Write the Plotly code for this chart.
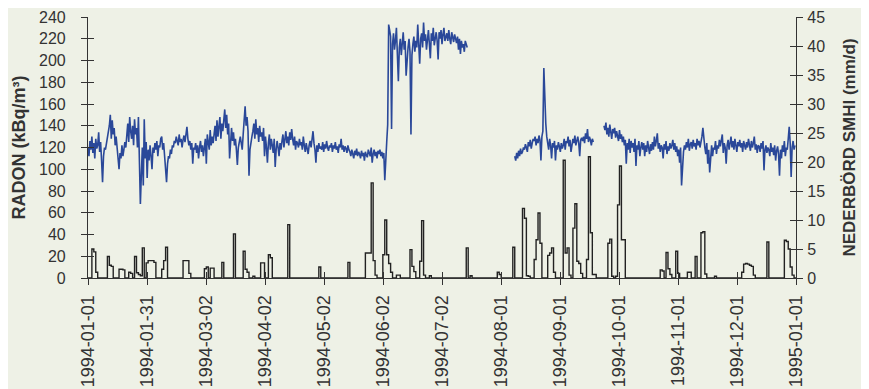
import pandas as pd
import plotly.graph_objects as go

# ---------------- data ----------------
# Radon, two readings per day (00:00 and 12:00), kBq/m3
radon_jan_jul_start = "1994-01-01"
radon_jan_jul = [
    120,112,126,118,130,115,124,110,128,119,
    122,134,116,125,108,88,112,120,118,124,
    126,135,140,150,128,145,132,138,122,130,
    118,108,100,115,110,122,112,118,125,120,
    130,142,125,148,135,128,140,122,146,132,
    138,120,148,110,68,95,120,85,146,110,
    125,92,118,108,122,112,100,120,115,124,
    118,126,112,122,120,128,130,118,124,112,
    95,88,105,112,110,118,114,122,120,126,
    124,130,126,122,132,125,128,120,127,131,
    125,132,139,128,122,126,118,124,105,120,
    118,124,115,122,110,120,126,116,122,112,
    120,128,105,132,125,118,136,122,130,124,
    132,140,126,145,130,138,148,128,142,135,
    145,155,138,150,132,142,110,130,138,126,
    134,122,128,118,104,120,126,130,124,118,
    132,145,158,140,148,135,94,118,126,130,
    135,142,128,146,132,138,125,140,130,134,
    126,138,112,130,120,106,124,132,118,128,
    122,115,128,102,118,126,120,112,124,118,
    126,132,120,128,135,124,130,122,134,127,
    137,128,122,130,118,126,124,120,128,122,
    125,118,130,122,116,124,120,114,122,126,
    120,128,135,124,118,106,122,116,124,119,
    121,118,125,116,123,119,126,120,117,122,
    120,124,116,122,119,125,118,121,115,123,
    120,128,118,122,116,121,119,115,122,118,
    116,112,118,114,110,117,113,119,112,116,
    114,110,117,112,115,108,116,113,111,118,
    115,112,120,106,114,118,112,116,110,117,
    114,118,112,116,110,115,90,118,125,141,
    233,228,222,137,215,225,210,218,230,205,
    181,212,220,205,215,226,210,218,186,205,
    212,220,208,132,205,215,222,208,218,212,
    233,215,197,220,225,212,235,218,224,210,
    222,228,215,202,225,218,230,214,220,226,
    218,201,226,220,228,215,224,230,218,222,
    225,218,228,220,215,226,222,217,224,220,
    216,222,210,220,206,218,212,215,208,218,
    215,212,
]
radon_aug_sep_start = "1994-08-09"
radon_aug_sep = [
    112,108,115,110,117,112,119,114,116,120,
    118,123,120,116,125,121,127,119,124,128,
    126,130,122,128,124,131,127,108,130,135,
    193,158,142,130,125,118,128,122,110,124,
    120,126,108,122,118,125,121,116,124,119,
    122,128,118,126,124,130,121,127,116,125,
    128,124,131,122,126,130,124,112,127,129,
    126,130,124,133,128,137,125,130,127,122,
    128,125,
]
radon_sep_dec_start = "1994-09-24"
radon_sep_dec = [
    140,136,143,132,138,130,141,135,128,137,
    133,138,129,135,131,126,136,128,132,125,
    130,122,127,105,124,118,128,115,126,120,
    124,116,128,103,122,118,126,112,120,125,
    118,124,112,122,116,126,120,114,123,117,
    125,118,130,121,126,133,119,124,116,122,
    120,110,123,118,126,114,121,117,124,119,
    122,127,118,124,116,121,112,118,106,120,
    85,104,116,122,118,125,120,128,117,123,
    125,119,127,121,124,118,128,122,126,120,
    124,130,138,126,120,114,124,105,118,97,
    116,122,112,120,118,126,114,122,119,127,
    121,128,132,115,124,120,105,122,127,118,
    124,130,120,126,118,128,122,116,125,121,
    127,120,124,116,126,122,118,125,120,128,
    122,117,126,120,124,130,118,123,115,122,
    121,116,124,119,126,99,118,122,115,120,
    118,112,124,116,120,113,122,108,117,121,
    114,94,118,110,122,116,126,112,120,118,
    128,139,124,93,120,126,118,122,
]

# Precipitation SMHI, mm/d (days not listed = 0)
precip_dates = [
    "1994-01-03","1994-01-04","1994-01-05","1994-01-11","1994-01-12","1994-01-13",
    "1994-01-17","1994-01-18","1994-01-19","1994-01-22","1994-01-23","1994-01-25",
    "1994-01-26","1994-01-27","1994-01-28","1994-01-29","1994-01-31","1994-02-01",
    "1994-02-02","1994-02-03","1994-02-04","1994-02-08","1994-02-09","1994-02-10",
    "1994-02-19","1994-02-20","1994-02-21","1994-02-22","1994-03-02","1994-03-03",
    "1994-03-05","1994-03-06","1994-03-11","1994-03-17","1994-03-22","1994-03-23",
    "1994-03-24","1994-03-27","1994-03-31","1994-04-01","1994-04-04","1994-04-05",
    "1994-04-14","1994-04-30","1994-05-15","1994-05-24","1994-05-25","1994-05-26",
    "1994-05-27","1994-05-28","1994-05-29","1994-06-02","1994-06-03","1994-06-04",
    "1994-06-05","1994-06-06","1994-06-09","1994-06-10","1994-06-16","1994-06-17",
    "1994-06-18","1994-06-21","1994-06-22","1994-06-23","1994-06-26","1994-07-15",
    "1994-07-17","1994-07-31","1994-08-01","1994-08-08","1994-08-13","1994-08-14",
    "1994-08-15","1994-08-16","1994-08-19","1994-08-20","1994-08-21","1994-08-22",
    "1994-08-26","1994-08-27","1994-08-28","1994-08-29","1994-09-03","1994-09-04",
    "1994-09-05","1994-09-06","1994-09-08","1994-09-09","1994-09-10","1994-09-11",
    "1994-09-12","1994-09-15","1994-09-16","1994-09-17","1994-09-18","1994-09-19",
    "1994-09-26","1994-09-27","1994-09-28","1994-09-30","1994-10-01","1994-10-02",
    "1994-10-03","1994-10-04","1994-10-23","1994-10-24","1994-10-26","1994-10-27",
    "1994-10-28","1994-10-31","1994-11-01","1994-11-06","1994-11-07","1994-11-10",
    "1994-11-13","1994-11-14","1994-11-15","1994-11-20","1994-12-04","1994-12-05",
    "1994-12-06","1994-12-07","1994-12-08","1994-12-09","1994-12-10","1994-12-17",
    "1994-12-26","1994-12-27","1994-12-28","1994-12-29","1994-12-30",
]
precip_mm = [
    5.0,4.5,1.0,3.7,2.2,2.0,
    1.5,1.5,1.4,1.0,0.8,3.7,
    0.9,0.6,0.4,5.2,2.6,3.0,
    3.0,3.0,2.7,1.5,3.0,5.3,
    3.0,3.0,3.0,0.8,1.6,1.9,
    1.7,1.7,2.7,7.6,4.6,1.5,
    1.0,0.3,2.6,2.6,4.0,3.5,
    9.2,1.9,2.7,4.3,4.3,4.3,
    16.4,3.0,0.5,4.0,10.0,4.0,
    2.5,1.0,0.5,0.5,4.9,2.0,
    1.1,2.9,9.9,0.5,0.4,5.2,
    0.4,1.0,0.6,5.3,12.0,10.3,
    0.4,0.3,3.2,6.6,11.2,6.0,
    3.9,4.3,5.2,1.0,20.3,4.3,
    5.2,0.5,8.6,12.8,2.9,2.5,
    0.8,3.2,20.9,7.8,0.6,0.6,
    6.0,6.7,0.3,0.3,12.6,19.3,
    6.6,6.6,1.4,1.2,4.4,1.6,
    0.6,4.6,0.8,1.0,1.0,3.7,
    7.8,8.0,0.7,0.3,1.0,2.4,
    2.5,2.4,2.2,2.0,0.5,6.2,
    6.5,6.3,5.0,1.9,0.5,
]

x_tick_labels = ["1994-01-01","1994-01-31","1994-03-02","1994-04-02","1994-05-02",
                 "1994-06-02","1994-07-02","1994-08-01","1994-09-01","1994-10-01",
                 "1994-11-01","1994-12-01","1995-01-01"]

# ---------------- build series ----------------
def seg(start, vals):
    idx = pd.date_range(start, periods=len(vals), freq="12h")
    return list(idx), list(vals)

rx, ry = [], []
for s, v in [(radon_jan_jul_start, radon_jan_jul),
             (radon_aug_sep_start, radon_aug_sep),
             (radon_sep_dec_start, radon_sep_dec)]:
    xs, ys = seg(s, v)
    rx += xs + [None]
    ry += ys + [None]

days = pd.date_range("1994-01-01", "1995-01-01", freq="D")
pser = pd.Series(0.0, index=days)
for d, v in zip(precip_dates, precip_mm):
    pser[pd.Timestamp(d)] = v

t0 = pd.Timestamp("1994-01-01")
tickvals = [t0 + pd.Timedelta(days=365 / 12 * i) for i in range(len(x_tick_labels))]

ink = "#333333"
bg = "#eef1e6"
font = dict(family="Arial, Liberation Sans, sans-serif", size=16, color=ink)

fig = go.Figure()
fig.add_trace(go.Scatter(x=list(pser.index), y=list(pser.values), yaxis="y2",
                         mode="lines", line=dict(color="#222222", width=1.4, shape="hv"),
                         hoverinfo="skip", showlegend=False))
fig.add_trace(go.Scatter(x=rx, y=ry, mode="lines", connectgaps=False,
                         line=dict(color="#2a4899", width=1.6),
                         showlegend=False))

xr = ["1994-01-01", "1995-01-01"]
common = dict(showgrid=False, zeroline=False, automargin=False, tickwidth=1.2, tickcolor=ink)
fig.update_layout(
    width=861, height=381, autosize=False,
    margin=dict(l=80, r=73, t=9, b=111),
    paper_bgcolor=bg, plot_bgcolor=bg,
    font=font,
    xaxis=dict(type="date", range=xr, tickvals=tickvals, ticktext=x_tick_labels,
               tickangle=-90, ticks="outside", ticklen=6,
               showline=True, linecolor=ink, linewidth=1.2, ticklabelstandoff=3,
               tickfont=dict(size=18, color=ink), **common),
    xaxis2=dict(type="date", range=xr, tickvals=tickvals, overlaying="x", anchor="y",
                side="bottom", ticks="inside", ticklen=6,
                showticklabels=False, showline=False, **common),
    yaxis=dict(range=[0, 240], tickvals=list(range(0, 241, 20)), ticks="outside",
               ticklen=6, showline=True, linecolor=ink,
               linewidth=1.2, ticklabelstandoff=12,
               tickfont=dict(size=16, color=ink),
               title=dict(text="RADON (kBq/m³)", standoff=8,
                          font=dict(size=18, color=ink, weight="bold")), **common),
    yaxis3=dict(range=[0, 240], tickvals=list(range(0, 241, 20)), overlaying="y",
                side="left", anchor="x", ticks="inside", ticklen=6,
                showticklabels=False, showline=False, **common),
    yaxis2=dict(range=[0, 45], tickvals=list(range(0, 46, 5)), overlaying="y",
                side="right", anchor="x", ticks="outside", ticklen=6,
                showline=True, linecolor=ink, linewidth=1.2, ticklabelstandoff=1,
                tickfont=dict(size=16, color=ink),
                title=dict(text="NEDERBÖRD SMHI (mm/d)", standoff=18,
                           font=dict(size=17, color=ink, weight="bold")), **common),
    yaxis4=dict(range=[0, 45], tickvals=list(range(0, 46, 5)), overlaying="y",
                side="right", anchor="x", ticks="inside", ticklen=6,
                showticklabels=False, showline=False, **common),
)
# invisible traces so the tick-only overlay axes are drawn
fig.add_trace(go.Scatter(x=[xr[0]], y=[0], xaxis="x2", yaxis="y3", mode="markers",
                         marker=dict(opacity=0), hoverinfo="skip", showlegend=False))
fig.add_trace(go.Scatter(x=[xr[0]], y=[0], xaxis="x2", yaxis="y4", mode="markers",
                         marker=dict(opacity=0), hoverinfo="skip", showlegend=False))

fig.write_html("out.html")
